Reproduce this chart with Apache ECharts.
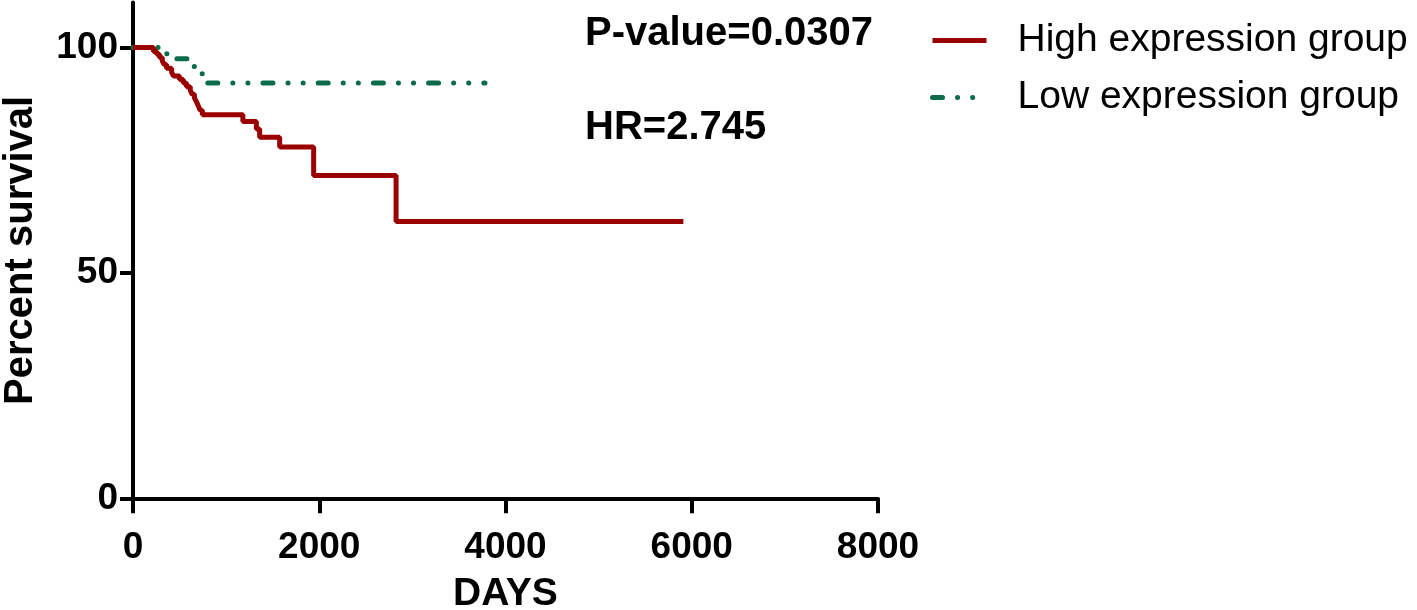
<!DOCTYPE html>
<html>
<head>
<meta charset="utf-8">
<script src="https://cdn.jsdelivr.net/npm/echarts@6/dist/echarts.min.js"></script>
<style>
  html, body { margin: 0; padding: 0; background: #fff; }
  #chart { width: 1417px; height: 610px; }
</style>
</head>
<body>
<div id="chart"></div>
<script>
// Kaplan-Meier steps (days, percent survival)
const highDays = [0, 220, 255, 285, 315, 335, 360, 415, 435, 500, 540, 575, 615, 635, 660, 680, 700, 720, 745, 1180, 1325, 1360, 1575, 1940, 2825, 5910];
const highSurv = [100, 99.1, 98.5, 97.8, 97.0, 96.2, 95.4, 94.5, 93.7, 92.9, 92.1, 91.3, 90.5, 89.6, 88.8, 88.0, 87.1, 86.1, 85.1, 83.6, 81.9, 80.1, 77.9, 71.6, 61.4, 61.4];
const lowDays = [0, 300, 460, 640, 720, 780, 3780];
const lowSurv = [100, 98.6, 97.5, 95.8, 94.2, 92.1, 92.1];
const xTicks = [0, 2000, 4000, 6000, 8000];
const yTicks = [0, 50, 100];
const seriesNames = ['High expression group', 'Low expression group'];
const pValueText = 'P-value=0.0307';
const hrText = 'HR=2.745';

const FONT = 'Liberation Sans, Arial, sans-serif';
const RED = '#9b0000';
const GREEN = '#0c6b48';
const greenDash = [10, 15, 0.1, 15, 0.1, 15];

function pairs(xs, ys) {
  return xs.map((x, i) => [x, ys[i]]);
}

const chart = echarts.init(document.getElementById('chart'));

chart.setOption({
  animation: false,
  backgroundColor: '#fff',
  title: [
    {
      text: pValueText,
      left: 585,
      top: 14,
      padding: 0,
      textStyle: { fontFamily: FONT, fontSize: 40, fontWeight: 'bold', color: '#000' },
    },
    {
      text: hrText,
      left: 585,
      top: 108,
      padding: 0,
      textStyle: { fontFamily: FONT, fontSize: 40, fontWeight: 'bold', color: '#000' },
    },
  ],
  legend: {
    data: [
      { name: seriesNames[0], lineStyle: { color: RED, width: 5 } },
      { name: seriesNames[1], lineStyle: { color: GREEN, width: 5, cap: 'round', type: greenDash } },
    ],
    orient: 'vertical',
    left: 930,
    top: 21,
    padding: 0,
    itemWidth: 54,
    itemHeight: 14,
    itemGap: 18,
    selectedMode: false,
    itemStyle: { opacity: 0 },
    textStyle: {
      fontFamily: FONT,
      fontSize: 39,
      lineHeight: 39,
      color: '#000',
      padding: [0, 0, 0, 26],
    },
  },
  grid: {
    left: 133,
    right: 539,
    top: 2.4,
    bottom: 111.7,
    outerBoundsMode: 'none',
  },
  xAxis: {
    type: 'value',
    min: xTicks[0],
    max: xTicks[xTicks.length - 1],
    interval: 2000,
    name: 'DAYS',
    nameLocation: 'middle',
    nameGap: 76,
    nameTextStyle: { fontFamily: FONT, fontSize: 39, fontWeight: 'bold', color: '#000' },
    splitLine: { show: false },
    axisLine: { show: true, onZero: false, lineStyle: { color: '#000', width: 4 } },
    axisTick: { show: true, inside: false, length: 15, lineStyle: { color: '#000', width: 4 } },
    axisLabel: {
      margin: 31,
      fontFamily: FONT, fontSize: 37, fontWeight: 'bold', color: '#000',
      formatter: (v) => String(v),
    },
  },
  yAxis: {
    type: 'value',
    min: 0,
    max: 110,
    name: 'Percent survival',
    nameLocation: 'middle',
    nameGap: 92,
    nameTextStyle: { fontFamily: FONT, fontSize: 40, fontWeight: 'bold', color: '#000' },
    splitLine: { show: false },
    axisLine: { show: true, lineStyle: { color: '#000', width: 4 } },
    axisTick: { show: true, inside: false, length: 13, customValues: yTicks, lineStyle: { color: '#000', width: 4 } },
    axisLabel: {
      margin: 15, customValues: yTicks,
      fontFamily: FONT, fontSize: 37, fontWeight: 'bold', color: '#000',
      formatter: (v) => String(v),
    },
  },
  series: [
    {
      name: seriesNames[0],
      type: 'line',
      step: 'end',
      symbol: 'none',
      z: 3,
      data: pairs(highDays, highSurv),
      lineStyle: { color: RED, width: 5 },
      itemStyle: { color: RED },
    },
    {
      name: seriesNames[1],
      type: 'line',
      step: 'end',
      symbol: 'none',
      z: 2,
      data: pairs(lowDays, lowSurv),
      lineStyle: { color: GREEN, width: 5, cap: 'round', type: greenDash },
      itemStyle: { color: GREEN },
    },
  ],
});
</script>
</body>
</html>
